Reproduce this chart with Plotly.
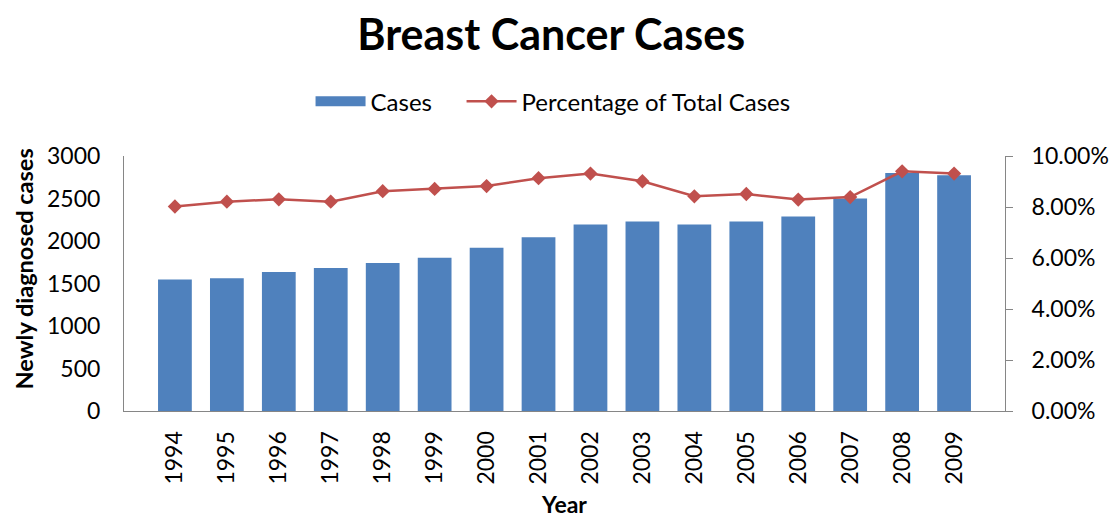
import plotly.graph_objects as go

years = [str(y) for y in range(1994, 2010)]
cases = [1546, 1561, 1635, 1682, 1741, 1804, 1922, 2043,
         2193, 2228, 2193, 2228, 2287, 2499, 2800, 2773]
pct_total = [0.0802, 0.0821, 0.0830, 0.0821, 0.0862, 0.0871, 0.0882, 0.0913,
             0.0931, 0.0901, 0.0842, 0.0851, 0.0829, 0.0839, 0.0940, 0.0931]

FONT = "Lato, 'Open Sans', sans-serif"
AXIS_GREY = "#868686"
BAR_BLUE = "#4F81BD"
LINE_RED = "#C0504D"

fig = go.Figure()
fig.add_trace(go.Bar(
    x=years, y=cases, name="Cases", showlegend=False,
    marker=dict(color=BAR_BLUE, line=dict(width=0)),
))
# wide rectangle swatch for the legend, like Excel's
fig.add_trace(go.Scatter(
    x=[None], y=[None], name="Cases\u00a0\u00a0\u00a0\u00a0", mode="lines",
    line=dict(color=BAR_BLUE, width=16),
))
fig.add_trace(go.Scatter(
    x=years, y=pct_total, name="Percentage of Total Cases", yaxis="y2",
    mode="lines+markers",
    line=dict(color=LINE_RED, width=2.5),
    marker=dict(symbol="diamond", size=11, color=LINE_RED),
))

fig.add_annotation(
    text="<b>Newly diagnosed cases</b>", textangle=-90,
    xref="paper", yref="paper", x=-0.113, y=0.557,
    xanchor="center", yanchor="middle", showarrow=False,
    font=dict(size=23.5, family=FONT, color="#000000"),
)

fig.update_layout(
    width=1120, height=519,
    margin=dict(l=116, r=123, t=148, b=116),
    paper_bgcolor="white", plot_bgcolor="white",
    font=dict(family=FONT, size=23, color="#000000"),
    title=dict(text="<b>Breast Cancer Cases</b>", x=0.485, xanchor="center",
               y=0.948, yanchor="middle", yref="container",
               font=dict(size=43, family=FONT, color="#000000")),
    bargap=0.35,
    showlegend=True,
    legend=dict(orientation="h", x=0.487, xanchor="center", y=1.213, yanchor="middle",
                font=dict(size=24), itemwidth=50),
    xaxis=dict(
        title=dict(text="<b>Year</b>", font=dict(size=23), standoff=13),
        tickangle=-90, showline=True, linecolor=AXIS_GREY, linewidth=1,
        ticks="", showgrid=False, ticklabelstandoff=10, automargin=False,
    ),
    yaxis=dict(
        range=[0, 3000], dtick=500, showline=True, linecolor=AXIS_GREY, linewidth=1,
        ticks="", showgrid=False, zeroline=False, ticklabelstandoff=18,
        automargin=False,
    ),
    yaxis2=dict(
        overlaying="y", side="right", range=[0, 0.10], dtick=0.02, tickformat=".2%",
        showline=True, linecolor=AXIS_GREY, linewidth=1, ticks="outside",
        ticklen=7, tickcolor=AXIS_GREY, showgrid=False, zeroline=False,
        ticklabelstandoff=14, automargin=False,
    ),
)

fig.write_html("out.html")
